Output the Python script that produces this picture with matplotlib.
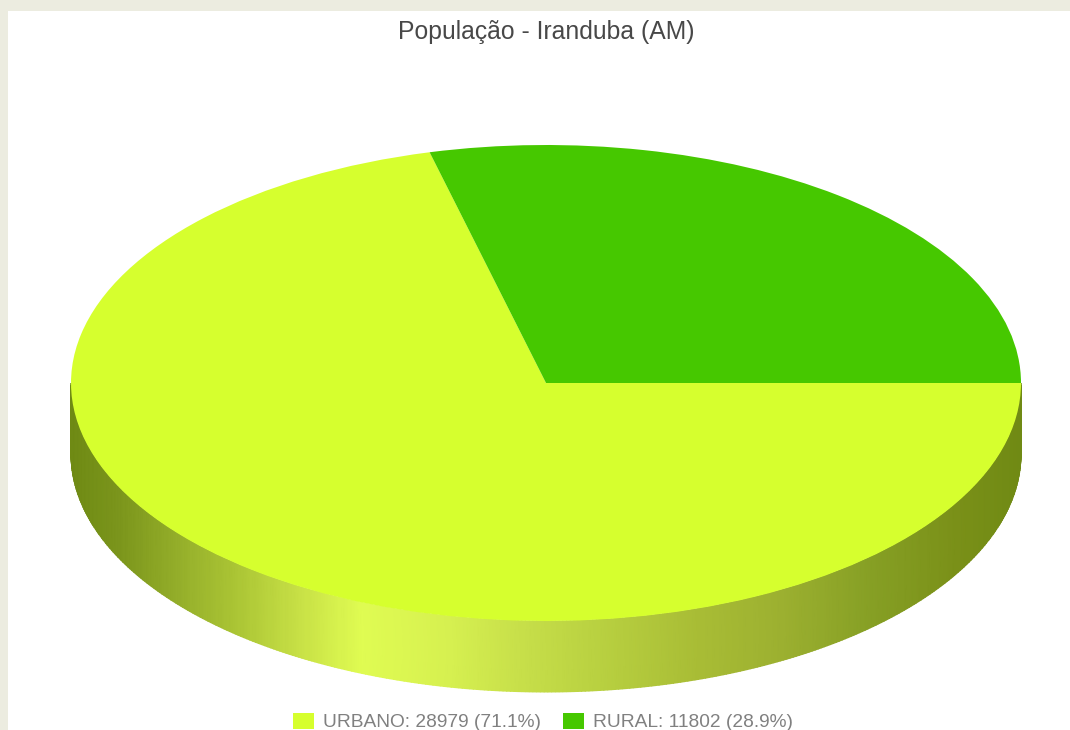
import matplotlib
matplotlib.use('Agg')
import matplotlib.pyplot as plt
from matplotlib.colors import LinearSegmentedColormap
from matplotlib.patches import Patch, Rectangle
import numpy as np

categories = ['URBANO', 'RURAL']
values = [28979, 11802]
colors = ['#d6ff2e', '#46c800']
title = 'População - Iranduba (AM)'

W, H = 1070, 730
cx, cy, rx, ry = 546, 383, 475, 238
depth = 71 / ry

plt.rcParams['font.family'] = ['Liberation Sans', 'DejaVu Sans']

fig = plt.figure(figsize=(W / 100, H / 100), dpi=100, facecolor='#ecece0')
ax = fig.add_axes([0, 0, 1, 1])

wedges, _ = ax.pie(values, colors=colors, startangle=0, counterclock=False, radius=1,
                   wedgeprops={'linewidth': 0, 'zorder': 3})

# pie forces a round aspect, the chart is a flattened ellipse
ax.set_aspect('auto')
ax.set_xlim(-cx / rx, (W - cx) / rx)
ax.set_ylim((cy - H) / ry, cy / ry)
ax.axis('off')

# white panel inside the frame
px = ax.transData.inverted()
x0, y1 = px.transform((8, 0))
x1, y0 = px.transform((W, H - 11))
ax.add_patch(Rectangle((x0, y0), x1 - x0, y1 - y0, fc='white', ec='none', zorder=0))

# side wall of the disc, shaded by x
wall = LinearSegmentedColormap.from_list('wall', [
    (0.00, '#6f8a14'), (0.05, '#7c961c'), (0.12, '#98b22c'), (0.17, '#aac434'),
    (0.24, '#c8e146'), (0.305, '#e0fc52'), (0.40, '#d6f050'), (0.47, '#c8e04a'),
    (0.56, '#b8d040'), (0.665, '#a8bc35'), (0.75, '#9cb030'), (0.84, '#87a025'),
    (0.935, '#7a9018'), (1.00, '#708a14')])
t = np.linspace(np.pi, 2 * np.pi, 400)
xs = np.cos(t)
mesh_x = np.vstack([xs, xs])
mesh_y = np.vstack([np.sin(t), np.sin(t) - depth])
mesh_c = np.vstack([(xs + 1) / 2, (xs + 1) / 2])
ax.pcolormesh(mesh_x, mesh_y, mesh_c, cmap=wall, shading='gouraud', zorder=2, vmin=0, vmax=1)

fig.text(546 / W, 1 - 32 / H, title, ha='center', va='center', fontsize=17.8, color='#484848')

total = sum(values)
handles = [Patch(fc=c, ec='none') for c in colors]
labels = ['%s: %d (%.1f%%)' % (n, v, 100 * v / total) for n, v in zip(categories, values)]
fig.legend(handles, labels, ncol=2, frameon=False, loc='center', bbox_to_anchor=(543 / W, 1 - 722 / H),
           fontsize=13.75, labelcolor='#808080', handlelength=1.1, handleheight=0.9,
           handletextpad=0.5, columnspacing=1.1, borderpad=0)

fig.savefig('out.png', dpi=100, facecolor=fig.get_facecolor())
